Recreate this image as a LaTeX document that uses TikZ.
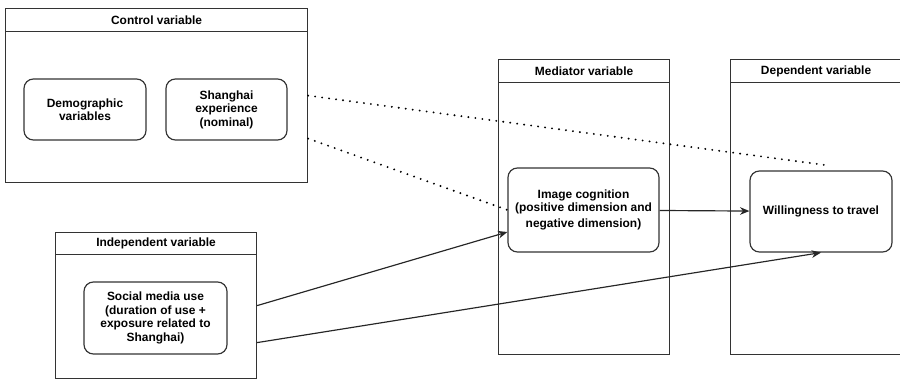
\documentclass[tikz,border=0pt]{standalone}
\usepackage{fontspec}
\setmainfont{Liberation Sans}
\usetikzlibrary{shapes,arrows,arrows.meta}
\tikzstyle{lane} = [rectangle, draw=black!80, line width=1pt, anchor=north west,
    minimum width=5.13cm, minimum height=8.85cm]
\tikzstyle{head} = [rectangle, draw=black!80, line width=1pt, anchor=north,
    minimum height=0.69cm]
\tikzstyle{block} = [rectangle, draw=black!80, line width=1pt, align=center,
    rounded corners=8pt]
\tikzstyle{line} = [draw=black!85, line width=1pt, -{Stealth[length=8pt, width=6.5pt, inset=2.5pt]}]
\tikzstyle{dots} = [draw=black, line width=1.8pt, line cap=round, dash pattern=on 0pt off 6pt]

\begin{document}
\begin{tikzpicture}[every node/.style={font=\fontsize{10.2}{11.5}\selectfont\bfseries}]
        \useasboundingbox (0,0) rectangle (27,-11.4);
        % Place lanes
        \path (0.15,-0.24) node (control) [lane, minimum width=9.06cm, minimum height=5.22cm] {};
        \path (control.north) node (controlhead) [head, minimum width=9.06cm] {Control variable};
        \path (1.65,-6.96) node (indep) [lane, minimum width=6.03cm, minimum height=4.38cm] {};
        \path (indep.north) node (indephead) [head, minimum width=6.03cm, minimum height=0.66cm] {Independent variable};
        \path (14.94,-1.77) node (mediator) [lane] {};
        \path (mediator.north) node (mediatorhead) [head, minimum width=5.13cm] {Mediator variable};
        \path (21.9,-1.77) node (depend) [lane] {};
        \path (depend.north) node (dependhead) [head, minimum width=5.13cm] {Dependent variable};

        %Control variable
        \path (2.55,-3.285) node (demo) [block, minimum width=3.66cm, minimum height=1.83cm] {Demographic\\variables};
        \path (6.795,-3.285) node (shanghai) [block, minimum width=3.63cm, minimum height=1.83cm] {Shanghai\\experience\\(nominal)};

        %Independent variable
        \path (4.665,-9.54) node (social) [block, minimum width=4.29cm, minimum height=2.16cm] {Social media use\\(duration of use +\\exposure related to\\Shanghai)};

        %Mediator variable
        \path (17.505,-6.3) node (imagecog) [block, minimum width=4.53cm, minimum height=2.52cm] {Image cognition\\(positive dimension and\\[2pt]negative dimension)};

        %Dependent variable
        \path (24.63,-6.345) node (willing) [block, minimum width=4.26cm, minimum height=2.43cm] {Willingness to travel};

        % Connectors
        \path [dots] (control.east) -- ([xshift=0.21cm,yshift=0.15cm]willing.north);
        \path [dots] ([yshift=-1.29cm]control.east) -- (imagecog.west);
        \path [line] (indep.east) -- ([yshift=-0.66cm]imagecog.west);
        \path [line] ([yshift=-1.11cm]indep.east) -- (willing.south);
        \path [line] (imagecog) -- (willing);
    \end{tikzpicture}
\end{document}
